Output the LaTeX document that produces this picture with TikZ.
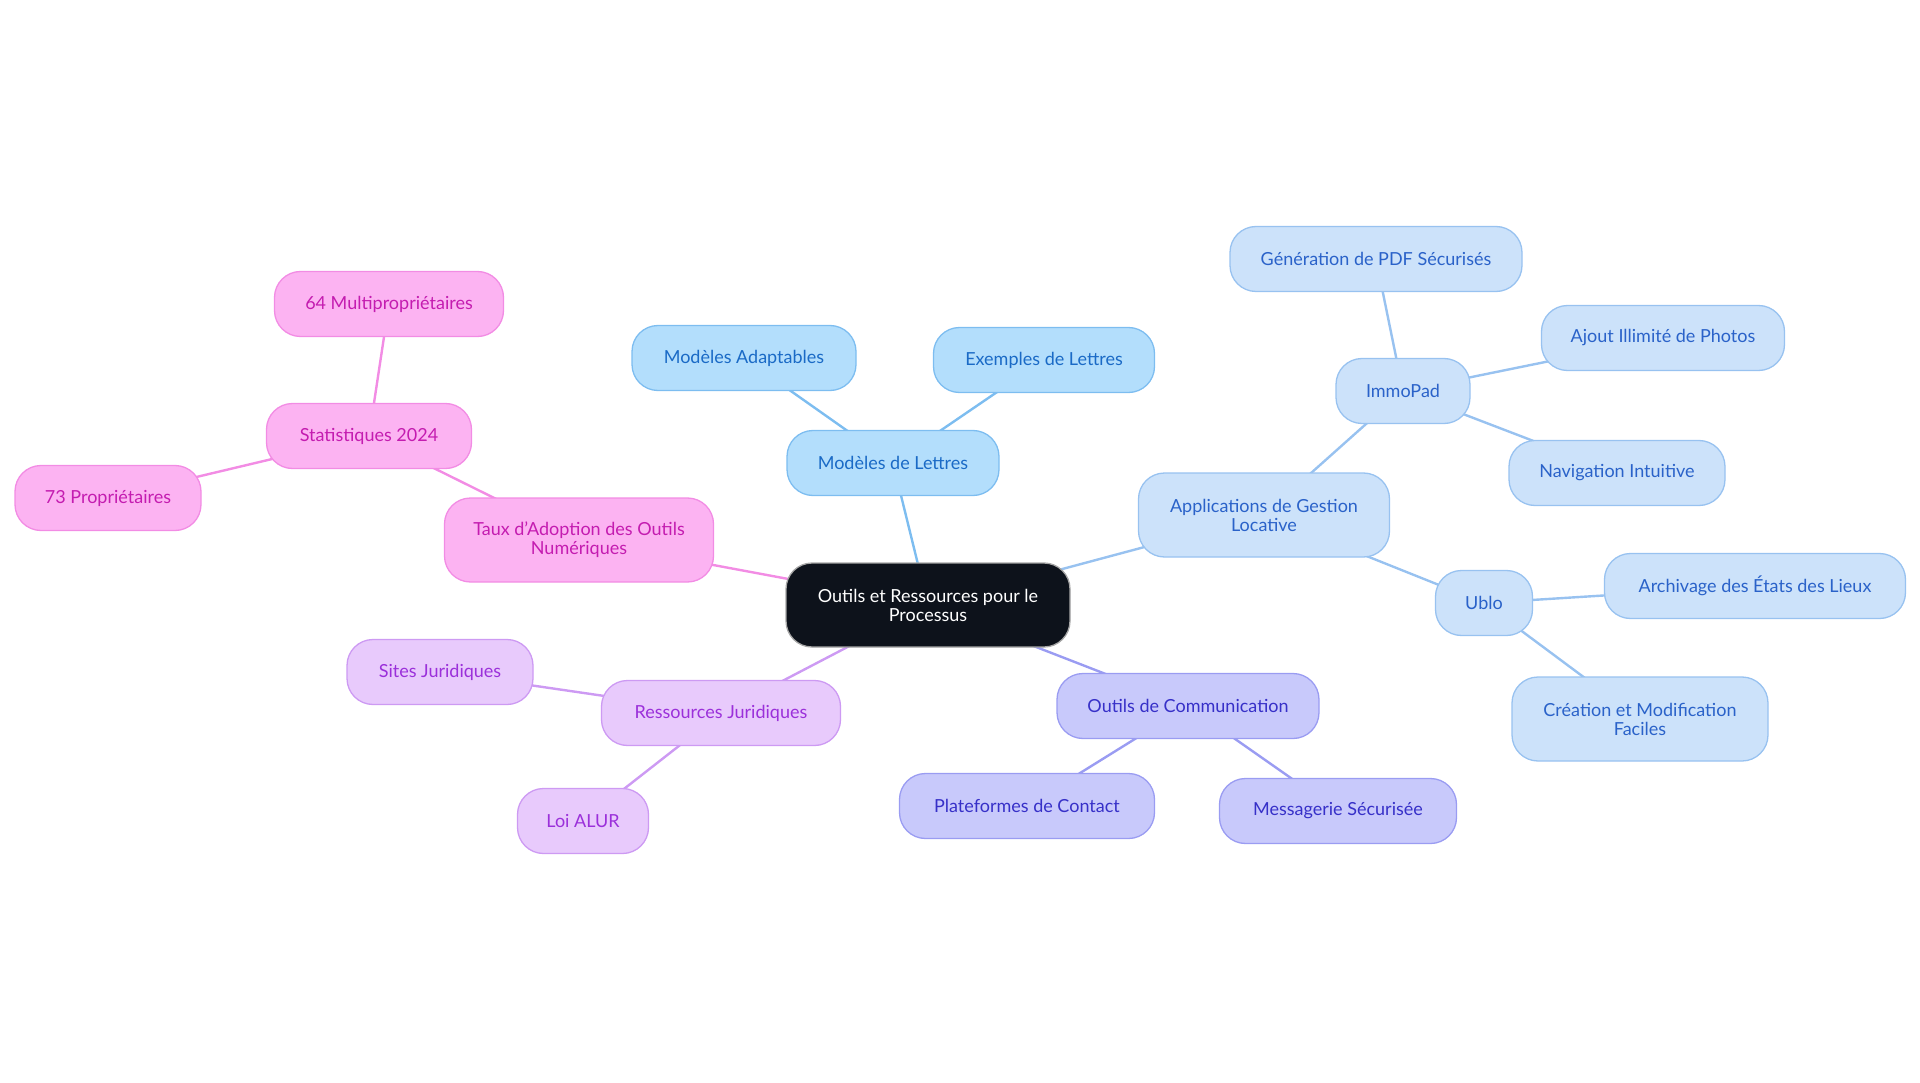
\documentclass[tikz,border=0pt]{standalone}
\usepackage{fontspec}
\setmainfont{Lato}
\usepackage{tikz}
\usetikzlibrary{backgrounds}
\definecolor{hubFill}{HTML}{0D121B}
\definecolor{skyFill}{HTML}{B3DEFC}
\definecolor{skyLine}{HTML}{7DBDF0}
\definecolor{skyText}{HTML}{1A6AC6}
\definecolor{paleFill}{HTML}{CCE2FA}
\definecolor{paleLine}{HTML}{98C2F0}
\definecolor{paleText}{HTML}{2A62C9}
\definecolor{violFill}{HTML}{C8C9FB}
\definecolor{violLine}{HTML}{9A9CF2}
\definecolor{violText}{HTML}{3730C8}
\definecolor{lilacFill}{HTML}{E8CAFC}
\definecolor{lilacLine}{HTML}{CD9AF3}
\definecolor{lilacText}{HTML}{9B30DA}
\definecolor{pinkFill}{HTML}{FCB3F2}
\definecolor{pinkLine}{HTML}{F28CE4}
\definecolor{pinkText}{HTML}{C41CB0}

\begin{document}
\begin{tikzpicture}[x=1pt, y=-1pt,
  bubble/.style={rounded corners=26pt, line width=1.3pt, minimum height=65pt, inner xsep=4pt, align=center,
    font=\fontsize{18}{19}\selectfont},
  hub/.style={bubble, fill=hubFill, draw=gray!70, text=white, minimum height=84pt},
  sky/.style={bubble, fill=skyFill, draw=skyLine, text=skyText},
  pale/.style={bubble, fill=paleFill, draw=paleLine, text=paleText},
  viol/.style={bubble, fill=violFill, draw=violLine, text=violText},
  lilac/.style={bubble, fill=lilacFill, draw=lilacLine, text=lilacText},
  pink/.style={bubble, fill=pinkFill, draw=pinkLine, text=pinkText},
  twoline/.style={minimum height=84pt},
  link/.style={line width=2.4pt}
]
  \useasboundingbox (0,0) rectangle (1920,1083);

  % centre
  \node[hub, minimum width=284pt] (hub) at (928,605) {Outils et Ressources pour le\\Processus};

  % modeles
  \node[sky, minimum width=212pt] (lettres) at (893,463) {Modèles de Lettres};
  \node[sky, minimum width=224pt] (adapt) at (744,358) {Modèles Adaptables};
  \node[sky, minimum width=221pt] (exemples) at (1044,360) {Exemples de Lettres};

  % gestion locative
  \node[pale, twoline, minimum width=251pt] (gestion) at (1264,515) {Applications de Gestion\\Locative};
  \node[pale, minimum width=134pt] (immo) at (1403,391) {ImmoPad};
  \node[pale, minimum width=292pt] (pdf) at (1376,259) {Génération de PDF Sécurisés};
  \node[pale, minimum width=243pt] (photos) at (1663,338) {Ajout Illimité de Photos};
  \node[pale, minimum width=216pt] (nav) at (1617,473) {Navigation Intuitive};
  \node[pale, minimum width=97pt] (ublo) at (1484,603) {Ublo};
  \node[pale, minimum width=301pt] (archiv) at (1755,586) {Archivage des États des Lieux};
  \node[pale, twoline, minimum width=256pt] (creation) at (1640,719) {Création et Modification\\Faciles};

  % communication
  \node[viol, minimum width=262pt] (comm) at (1188,706) {Outils de Communication};
  \node[viol, minimum width=255pt] (contact) at (1027,806) {Plateformes de Contact};
  \node[viol, minimum width=237pt] (messag) at (1338,811) {Messagerie Sécurisée};

  % juridique
  \node[lilac, minimum width=239pt] (jurid) at (721,713) {Ressources Juridiques};
  \node[lilac, minimum width=186pt] (sites) at (440,672) {Sites Juridiques};
  \node[lilac, minimum width=131pt] (alur) at (583,821) {Loi ALUR};

  % adoption
  \node[pink, twoline, minimum width=269pt] (taux) at (579,540) {Taux d'Adoption des Outils\\Numériques};
  \node[pink, minimum width=205pt] (stats) at (369,436) {Statistiques 2024};
  \node[pink, minimum width=229pt] (multi) at (389,304) {64 Multipropriétaires};
  \node[pink, minimum width=186pt] (proprio) at (108,498) {73 Propriétaires};

  \begin{scope}[on background layer]
    \draw[link, skyLine] (hub.center) -- (lettres.center);
    \draw[link, skyLine] (lettres.center) -- (adapt.center);
    \draw[link, skyLine] (lettres.center) -- (exemples.center);

    \draw[link, paleLine] (hub.center) -- (gestion.center);
    \draw[link, paleLine] (gestion.center) -- (immo.center);
    \draw[link, paleLine] (gestion.center) -- (ublo.center);
    \draw[link, paleLine] (immo.center) -- (pdf.center);
    \draw[link, paleLine] (immo.center) -- (photos.center);
    \draw[link, paleLine] (immo.center) -- (nav.center);
    \draw[link, paleLine] (ublo.center) -- (archiv.center);
    \draw[link, paleLine] (ublo.center) -- (creation.center);

    \draw[link, violLine] (hub.center) -- (comm.center);
    \draw[link, violLine] (comm.center) -- (contact.center);
    \draw[link, violLine] (comm.center) -- (messag.center);

    \draw[link, lilacLine] (hub.center) -- (jurid.center);
    \draw[link, lilacLine] (jurid.center) -- (sites.center);
    \draw[link, lilacLine] (jurid.center) -- (alur.center);

    \draw[link, pinkLine] (hub.center) -- (taux.center);
    \draw[link, pinkLine] (taux.center) -- (stats.center);
    \draw[link, pinkLine] (stats.center) -- (multi.center);
    \draw[link, pinkLine] (stats.center) -- (proprio.center);
  \end{scope}
\end{tikzpicture}
\end{document}
